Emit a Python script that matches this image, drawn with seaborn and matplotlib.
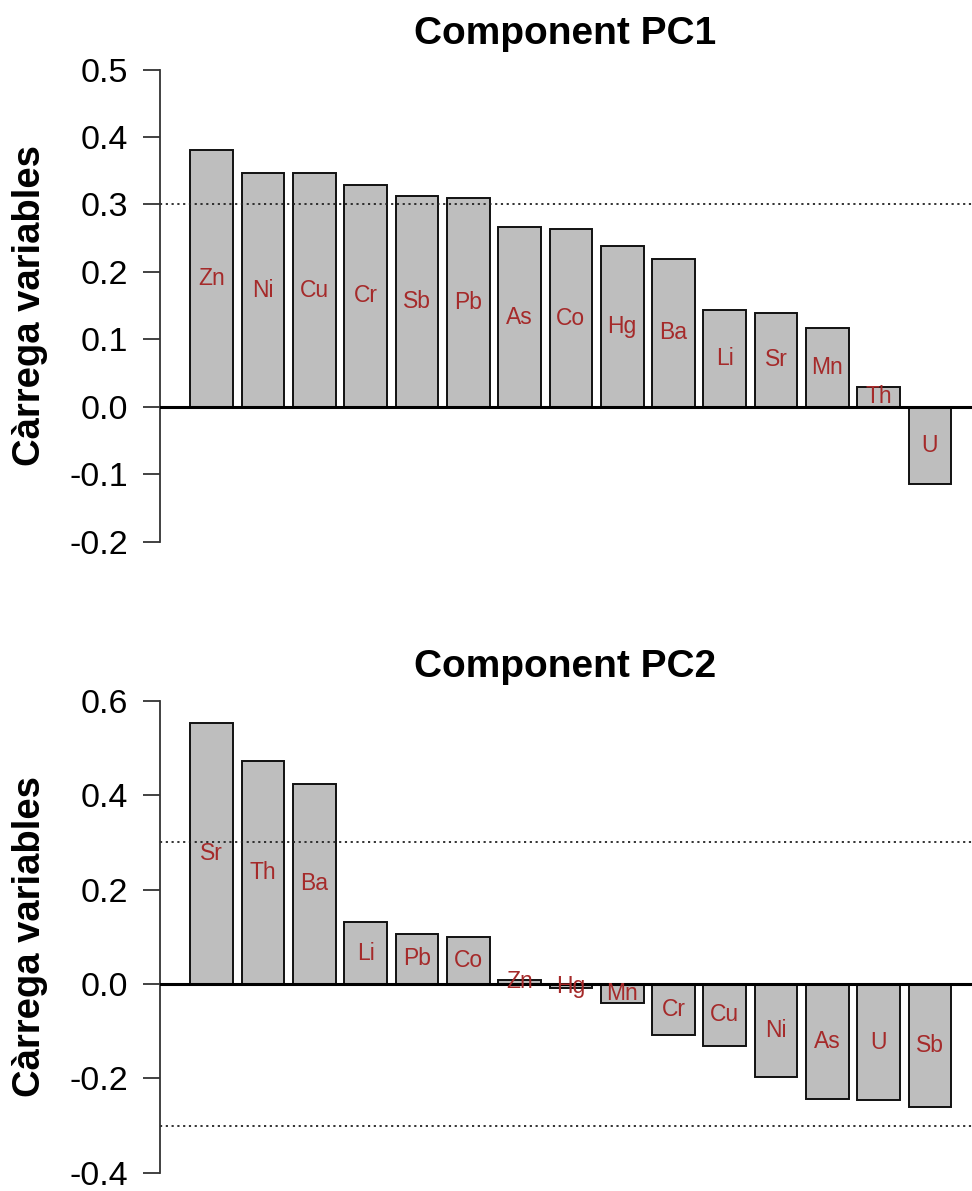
import matplotlib
matplotlib.use("Agg")
import matplotlib.pyplot as plt
import seaborn as sns
import pandas as pd

# ---- data ----
pc1_elements = ["Zn", "Ni", "Cu", "Cr", "Sb", "Pb", "As", "Co", "Hg", "Ba", "Li", "Sr", "Mn", "Th", "U"]
pc1_loadings = [0.381, 0.346, 0.346, 0.329, 0.312, 0.310, 0.266, 0.263, 0.239, 0.219, 0.143, 0.139, 0.117, 0.029, -0.114]

pc2_elements = ["Sr", "Th", "Ba", "Li", "Pb", "Co", "Zn", "Hg", "Mn", "Cr", "Cu", "Ni", "As", "U", "Sb"]
pc2_loadings = [0.553, 0.473, 0.424, 0.131, 0.106, 0.099, 0.009, -0.009, -0.040, -0.109, -0.131, -0.198, -0.244, -0.246, -0.260]

titles = ["Component PC1", "Component PC2"]
ylabel = "Càrrega variables"
pc1_ticks = [-0.2, -0.1, 0.0, 0.1, 0.2, 0.3, 0.4, 0.5]
pc2_ticks = [-0.4, -0.2, 0.0, 0.2, 0.4, 0.6]
pc1_thresholds = [0.3]
pc2_thresholds = [0.3, -0.3]

# ---- style ----
sns.set_theme(style="white")
plt.rcParams["font.family"] = ["Liberation Sans", "DejaVu Sans"]
plt.rcParams["text.color"] = "black"

W, H = 972, 1191
fig = plt.figure(figsize=(W / 100, H / 100), dpi=100)

def px_box(left, top, right, bottom):
    return [left / W, 1 - bottom / H, (right - left) / W, (bottom - top) / H]

panels = [
    dict(elements=pc1_elements, values=pc1_loadings, title=titles[0], ticks=pc1_ticks,
         thr=pc1_thresholds, box=px_box(160, 50.8, 972, 560.4), ylim=(-0.228, 0.528),
         title_y=34, fmt="{:.1f}"),
    dict(elements=pc2_elements, values=pc2_loadings, title=titles[1], ticks=pc2_ticks,
         thr=pc2_thresholds, box=px_box(160, 681.8, 972, 1191), ylim=(-0.4384, 0.64),
         title_y=667, fmt="{:.1f}"),
]

for p in panels:
    ax = fig.add_axes(p["box"])
    df = pd.DataFrame({"element": p["elements"], "value": p["values"]})
    sns.barplot(data=df, x="element", y="value", order=p["elements"], ax=ax,
                color="#BEBEBE", saturation=1, edgecolor="#111111", linewidth=1.4,
                width=1 / 1.2, errorbar=None)
    ax.set_xlim(-1.01, 14.82)
    ax.set_ylim(*p["ylim"])
    for t in p["thr"]:
        ax.axhline(t, color="#222222", lw=1.3, ls=(0, (1.2, 2.0)), zorder=1)
    ax.axhline(0, color="black", lw=2.2, zorder=4)
    for i, (el, v) in enumerate(zip(p["elements"], p["values"])):
        ax.text(i, v / 2, el, ha="center", va="center", fontsize=16.5,
                color="#A52A2A", zorder=5)
    for s in ["top", "right", "bottom"]:
        ax.spines[s].set_visible(False)
    ax.spines["left"].set_bounds(p["ticks"][0], p["ticks"][-1])
    ax.spines["left"].set_color("#333333")
    ax.spines["left"].set_linewidth(1.3)
    ax.set_xticks([])
    ax.set_xlabel("")
    ax.set_ylabel("")
    ax.set_yticks(p["ticks"])
    ax.set_yticklabels([p["fmt"].format(t) for t in p["ticks"]])
    ax.tick_params(axis="y", direction="out", length=12.2, width=1.3, color="#333333",
                   pad=11, labelsize=24.5, labelcolor="black", left=True)
    ax.patch.set_alpha(0)
    fig.text(565 / W, 1 - p["title_y"] / H, p["title"], ha="center", va="center",
             fontsize=28, fontweight="bold", color="black")
    b = p["box"]
    fig.text(30 / W, b[1] + b[3] / 2, ylabel, rotation=90, ha="center", va="center",
             fontsize=27.5, fontweight="bold", color="black")

fig.savefig("out.png", dpi=100, facecolor="white")
